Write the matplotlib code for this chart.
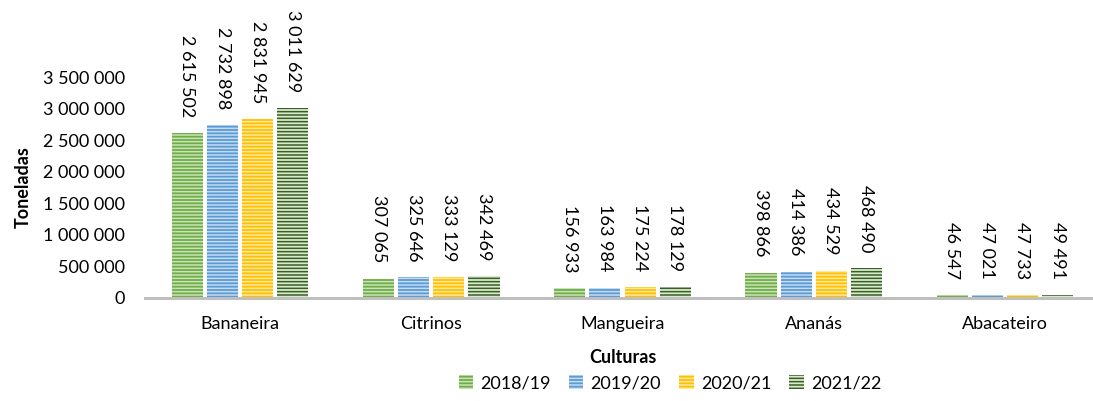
import matplotlib
matplotlib.use("Agg")
import matplotlib.pyplot as plt
import numpy as np

plt.rcParams['font.family'] = ['Lato', 'DejaVu Sans']
plt.rcParams['hatch.linewidth'] = 1.1

culturas = ["Bananeira", "Citrinos", "Mangueira", "Ananás", "Abacateiro"]
anos = ["2018/19", "2019/20", "2020/21", "2021/22"]
v_2018 = [2615502, 307065, 156933, 398866, 46547]
v_2019 = [2732898, 325646, 163984, 414386, 47021]
v_2020 = [2831945, 333129, 175224, 434529, 47733]
v_2021 = [3011629, 342469, 178129, 468490, 49491]
series = [v_2018, v_2019, v_2020, v_2021]

# face colour, hatch line colour
estilos = [("#70AD47", "#C9E3B8"),
           ("#5B9BD5", "#C4DBF1"),
           ("#FFC000", "#FFE9A0"),
           ("#D7EACB", "#3A5E25")]


def fmt(v):
    return f"{v:,}".replace(",", " ")


fig = plt.figure(figsize=(10.93, 4.01), dpi=100)
ax = fig.add_axes([144.5 / 1093, 103 / 401, 956 / 1093, 221 / 401])

x = np.arange(len(culturas))
w = 0.163
step = 0.184
for i, (vals, (fc, hc)) in enumerate(zip(series, estilos)):
    pos = x + (i - 1.5) * step
    ax.bar(pos, vals, w, color=fc, edgecolor=hc, linewidth=0, hatch="-----", label=anos[i])
    for px, v in zip(pos, vals):
        ax.annotate(fmt(v), (px, v), xytext=(0, 11.5), textcoords="offset points",
                    rotation=-90, ha="center", va="bottom", fontsize=13, color="#000000")

ax.set_xlim(-0.5, 4.5)
ax.set_ylim(0, 3500000)
ax.set_yticks(np.arange(0, 3500001, 500000))
ax.set_yticklabels([fmt(t) for t in range(0, 3500001, 500000)])
ax.set_xticks(x)
ax.set_xticklabels(culturas)
ax.tick_params(axis="both", length=0, labelsize=13)
ax.tick_params(axis="y", pad=14)
ax.tick_params(axis="x", pad=13)
for s in ["top", "right", "left"]:
    ax.spines[s].set_visible(False)
ax.spines["bottom"].set_color("#BFBFBF")
ax.spines["bottom"].set_linewidth(2.2)

ax.set_xlabel("Culturas", fontsize=13, fontweight="bold", labelpad=12)
ax.set_ylabel("Toneladas", fontsize=13, fontweight="bold", labelpad=8)

fig.legend(loc="center", bbox_to_anchor=(670 / 1093, 1 - 383 / 401), ncol=4, frameon=False,
           fontsize=13, handlelength=0.8, handleheight=0.8, handletextpad=0.4, columnspacing=1.0)

fig.savefig("out.png", dpi=100)
